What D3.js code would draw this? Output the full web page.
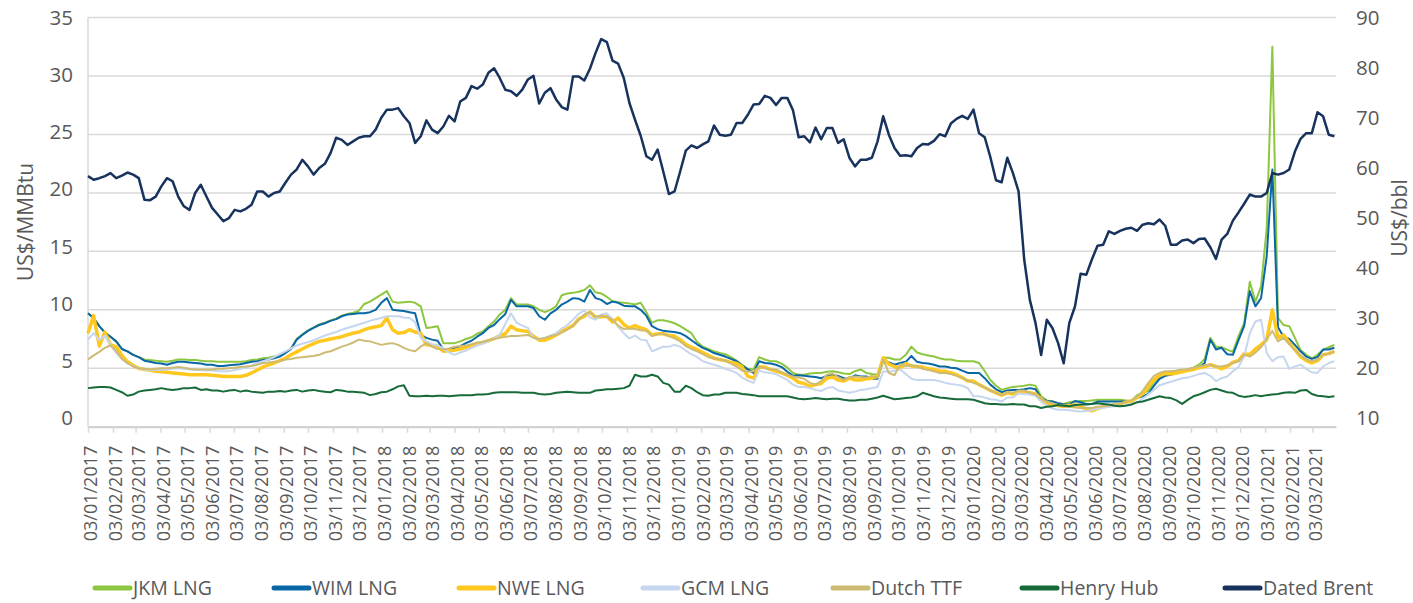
<!DOCTYPE html>
<html>
<head>
<meta charset="utf-8">
<script src="https://cdnjs.cloudflare.com/ajax/libs/d3/7.8.5/d3.min.js"></script>
<style>
body { margin: 0; background: #fff; }
text { font-family: "Open Sans", sans-serif; fill: #595959; }
</style>
</head>
<body>
<div id="chart"></div>
<script>
// weekly samples from 03/01/2017
var start = new Date(Date.UTC(2017, 0, 3));
var weeks = d3.range(222).map(function(i) { return d3.utcDay.offset(start, 7 * i); });

var jkm = [
  9.7, 9.3, 8.6, 8.05, 7.7, 7.3, 6.65, 6.45, 6.15, 5.95,
  5.75, 5.7, 5.65, 5.6, 5.55, 5.65, 5.75, 5.75, 5.7, 5.7,
  5.65, 5.6, 5.6, 5.55, 5.55, 5.55, 5.55, 5.55, 5.6, 5.7,
  5.75, 5.85, 5.9, 6.0, 6.1, 6.35, 6.7, 7.5, 7.9, 8.25,
  8.5, 8.75, 8.9, 9.1, 9.25, 9.5, 9.65, 9.75, 9.9, 10.5,
  10.7, 11.0, 11.3, 11.6, 10.7, 10.6, 10.65, 10.7, 10.6, 10.3,
  8.45, 8.5, 8.6, 7.15, 7.15, 7.15, 7.3, 7.5, 7.65, 7.95,
  8.15, 8.6, 9.0, 9.6, 10.0, 11.0, 10.45, 10.45, 10.45, 10.3,
  10.0, 9.8, 10.0, 10.3, 11.25, 11.4, 11.45, 11.55, 11.7, 12.1,
  11.5, 11.4, 11.1, 10.75, 10.65, 10.6, 10.55, 10.45, 10.6, 9.8,
  8.9, 9.1, 9.1, 9.0, 8.85, 8.6, 8.3, 8.0, 7.25, 6.85,
  6.65, 6.45, 6.3, 6.2, 5.95, 5.65, 5.3, 4.95, 4.9, 5.95,
  5.75, 5.6, 5.6, 5.4, 5.05, 4.6, 4.45, 4.45, 4.55, 4.6,
  4.6, 4.7, 4.75, 4.65, 4.55, 4.5, 4.75, 4.9, 4.6, 4.5,
  4.45, 5.9, 5.9, 5.75, 5.75, 6.15, 6.85, 6.35, 6.2, 6.1,
  6.0, 5.85, 5.75, 5.75, 5.65, 5.6, 5.6, 5.6, 5.45, 4.75,
  4.0, 3.5, 3.15, 3.3, 3.4, 3.45, 3.5, 3.6, 3.5, 2.6,
  2.25, 2.15, 2.0, 1.95, 2.1, 2.15, 2.2, 2.2, 2.25, 2.3,
  2.3, 2.3, 2.3, 2.3, 2.25, 2.2, 2.7, 2.9, 3.05, 3.8,
  4.3, 4.5, 4.6, 4.75, 4.8, 4.9, 5.05, 5.3, 5.8, 7.6,
  6.85, 6.8, 6.6, 6.4, 7.75, 8.85, 12.4, 10.7, 12.0, 17.0,
  32.5, 9.3, 8.7, 8.6, 7.6, 6.55, 6.15, 5.85, 6.15, 6.6,
  6.8, 7.0
];

var wim = [
  9.7, 9.3, 8.6, 8.05, 7.7, 7.3, 6.65, 6.45, 6.15, 5.95,
  5.65, 5.55, 5.45, 5.4, 5.3, 5.45, 5.55, 5.55, 5.5, 5.45,
  5.4, 5.3, 5.3, 5.2, 5.2, 5.25, 5.3, 5.35, 5.45, 5.55,
  5.6, 5.7, 5.75, 5.85, 6.0, 6.3, 6.65, 7.45, 7.85, 8.2,
  8.45, 8.7, 8.85, 9.05, 9.2, 9.45, 9.6, 9.65, 9.7, 9.7,
  9.8, 10.0, 10.6, 11.0, 10.0, 9.95, 9.9, 9.8, 9.7, 7.85,
  7.6, 7.45, 7.35, 6.6, 6.65, 6.7, 6.9, 7.15, 7.35, 7.7,
  8.0, 8.45, 8.7, 9.2, 9.65, 10.85, 10.3, 10.3, 10.3, 10.15,
  9.45, 9.15, 9.7, 10.0, 10.45, 10.7, 11.0, 10.95, 10.7, 11.7,
  11.0, 10.85, 10.5, 10.7, 10.6, 10.35, 10.3, 10.3, 10.0, 9.5,
  8.6, 8.35, 8.2, 8.15, 8.1, 8.0, 7.75, 7.4, 7.05, 6.75,
  6.55, 6.3, 6.15, 6.0, 5.8, 5.6, 5.2, 4.9, 4.6, 5.6,
  5.45, 5.4, 5.3, 5.1, 4.7, 4.35, 4.4, 4.35, 4.3, 4.25,
  4.15, 4.35, 4.45, 4.35, 4.15, 4.1, 4.4, 4.3, 4.3, 4.1,
  4.1, 5.65, 5.5, 5.3, 5.45, 5.55, 6.05, 5.55, 5.45, 5.4,
  5.3, 5.15, 5.15, 5.05, 5.0, 4.8, 4.6, 4.6, 4.6, 4.15,
  3.6, 3.2, 2.95, 3.1, 3.15, 3.15, 3.2, 3.3, 3.2, 2.45,
  2.2, 2.15, 2.0, 1.9, 1.9, 2.2, 2.1, 1.95, 1.95, 2.15,
  2.15, 2.15, 2.15, 2.15, 2.15, 2.2, 2.45, 2.6, 2.8, 3.5,
  4.1, 4.35, 4.45, 4.6, 4.7, 4.85, 5.0, 5.05, 5.45, 7.45,
  6.6, 6.75, 6.2, 6.15, 7.4, 8.6, 11.6, 10.3, 11.0, 14.6,
  22.0, 8.5, 7.7, 7.5, 7.0, 6.45, 6.0, 5.8, 5.95, 6.6,
  6.6, 6.75
];

var nwe = [
  8.0, 9.5, 6.9, 8.1, 7.0, 6.85, 6.1, 5.55, 5.25, 5.0,
  4.9, 4.85, 4.75, 4.7, 4.65, 4.6, 4.55, 4.5, 4.45, 4.45,
  4.45, 4.45, 4.4, 4.35, 4.3, 4.3, 4.3, 4.3, 4.4, 4.6,
  4.85, 5.1, 5.3, 5.45, 5.65, 5.85, 6.15, 6.4, 6.65, 6.9,
  7.1, 7.3, 7.4, 7.5, 7.6, 7.7, 7.85, 8.0, 8.1, 8.3,
  8.45, 8.55, 8.65, 9.3, 8.3, 8.0, 8.05, 8.3, 8.1, 8.0,
  7.0, 6.95, 6.9, 6.45, 6.5, 6.55, 6.65, 6.8, 6.95, 7.05,
  7.2, 7.35, 7.55, 7.8, 7.95, 8.6, 8.3, 8.2, 8.15, 7.75,
  7.4, 7.4, 7.6, 7.85, 8.15, 8.4, 8.65, 9.2, 9.45, 9.8,
  9.35, 9.4, 9.45, 8.95, 9.3, 8.75, 8.45, 8.65, 8.45, 8.3,
  7.85, 7.95, 7.95, 7.8, 7.75, 7.45, 7.05, 6.8, 6.6, 6.35,
  6.1, 5.85, 5.75, 5.65, 5.5, 5.4, 5.1, 4.3, 4.15, 5.1,
  5.1, 4.9, 4.75, 4.6, 4.4, 4.15, 3.8, 3.7, 3.45, 3.6,
  3.7, 4.15, 4.25, 4.0, 3.9, 4.15, 4.0, 4.0, 4.1, 4.15,
  4.3, 5.9, 5.35, 5.15, 5.0, 5.4, 5.2, 5.15, 5.1, 4.95,
  4.9, 4.75, 4.75, 4.6, 4.45, 4.2, 3.9, 3.9, 3.6, 3.35,
  3.1, 2.9, 2.7, 2.9, 2.8, 2.95, 3.0, 2.9, 2.8, 2.4,
  1.95, 1.9, 1.8, 1.75, 1.8, 1.85, 1.75, 1.5, 1.35, 1.55,
  1.75, 1.8, 1.85, 1.9, 2.1, 2.2, 2.5, 2.8, 3.45, 4.0,
  4.4, 4.55, 4.5, 4.6, 4.7, 4.8, 4.9, 5.05, 5.15, 5.3,
  5.15, 4.95, 5.15, 5.5, 5.65, 6.25, 6.15, 6.65, 7.0, 7.45,
  10.0, 7.6, 7.85, 7.2, 6.6, 6.0, 5.65, 5.45, 5.65, 6.15,
  6.25, 6.45
];

var gcm = [
  7.45, 8.0, 7.4, 7.8, 7.0, 6.3, 5.8, 5.4, 5.2, 5.0,
  4.9, 4.85, 4.85, 4.85, 4.9, 4.95, 5.0, 4.95, 4.9, 4.85,
  4.85, 4.8, 4.8, 4.75, 4.75, 4.75, 4.85, 4.95, 5.05, 5.25,
  5.45, 5.6, 5.75, 5.95, 6.2, 6.45, 6.7, 6.95, 7.1, 7.25,
  7.4, 7.6, 7.8, 7.95, 8.1, 8.3, 8.45, 8.6, 8.75, 8.9,
  9.05, 9.2, 9.3, 9.45, 9.45, 9.45, 9.35, 9.3, 8.95, 7.6,
  7.3, 7.05, 6.95, 6.7, 6.35, 6.15, 6.35, 6.5, 6.75, 6.95,
  7.1, 7.3, 7.6, 7.85, 8.8, 9.7, 8.9, 8.65, 8.45, 7.6,
  7.5, 7.6, 7.8, 8.0, 8.4, 8.7, 9.15, 9.65, 9.95, 9.35,
  9.15, 9.6, 9.7, 9.2, 8.55, 8.0, 7.55, 7.8, 7.45, 7.4,
  6.45, 6.65, 6.85, 6.85, 7.0, 6.85, 6.5, 6.2, 5.95, 5.6,
  5.45, 5.3, 5.15, 4.95, 4.8, 4.6, 4.2, 3.95, 3.75, 4.8,
  4.65, 4.6, 4.5, 4.25, 4.0, 3.6, 3.4, 3.4, 3.3, 3.15,
  3.05, 3.3, 3.4, 3.1, 3.0, 2.9, 3.0, 3.15, 3.2, 3.3,
  3.4, 4.75, 4.7, 4.8, 4.9, 4.5, 4.1, 4.0, 4.0, 4.0,
  4.0, 3.9, 3.75, 3.65, 3.6, 3.5, 3.3, 2.6, 2.6, 2.5,
  2.35, 2.3, 2.15, 2.5, 2.5, 2.85, 2.8, 2.75, 2.65, 2.15,
  1.8, 1.55, 1.45, 1.45, 1.4, 1.35, 1.3, 1.35, 1.4, 1.55,
  1.6, 1.7, 1.75, 1.75, 1.85, 1.9, 2.05, 2.4, 2.75, 3.15,
  3.55, 3.7, 3.85, 4.0, 4.15, 4.2, 4.35, 4.5, 4.6, 4.35,
  3.9, 4.15, 4.3, 4.75, 5.1, 6.0, 8.0, 9.0, 9.15, 6.3,
  5.6, 5.95, 6.0, 4.95, 5.15, 5.3, 4.95, 4.65, 4.6, 5.15,
  5.45, 5.6
];

var ttf = [
  5.75, 6.1, 6.4, 6.75, 6.95, 6.5, 5.8, 5.45, 5.15, 5.0,
  4.95, 4.9, 4.95, 5.0, 5.0, 5.05, 5.1, 5.05, 4.95, 4.9,
  4.9, 4.9, 4.9, 4.95, 4.95, 5.0, 5.05, 5.1, 5.15, 5.2,
  5.3, 5.45, 5.5, 5.55, 5.6, 5.75, 5.8, 5.9, 5.95, 6.0,
  6.05, 6.15, 6.35, 6.45, 6.65, 6.85, 7.0, 7.2, 7.45, 7.35,
  7.3, 7.15, 7.0, 7.1, 7.15, 7.0, 6.75, 6.55, 6.45, 6.85,
  7.15, 6.85, 6.65, 6.6, 6.7, 6.85, 6.9, 6.95, 7.05, 7.2,
  7.25, 7.4, 7.5, 7.6, 7.7, 7.75, 7.75, 7.8, 7.85, 7.6,
  7.5, 7.6, 7.75, 7.85, 8.05, 8.3, 8.65, 9.15, 9.6, 9.8,
  9.4, 9.5, 9.4, 9.15, 8.65, 8.35, 8.4, 8.35, 8.25, 8.2,
  7.75, 7.9, 7.95, 7.75, 7.55, 7.3, 6.9, 6.65, 6.45, 6.2,
  5.95, 5.85, 5.75, 5.65, 5.4, 5.15, 4.8, 4.7, 4.75, 5.1,
  5.0, 4.9, 4.9, 4.65, 4.45, 4.3, 4.2, 4.1, 3.75, 3.6,
  3.9, 4.45, 4.55, 4.25, 4.0, 4.25, 4.3, 4.25, 4.2, 4.35,
  4.2, 5.75, 4.6, 4.4, 5.35, 5.2, 5.25, 5.15, 4.95, 4.85,
  4.75, 4.6, 4.6, 4.5, 4.35, 4.2, 3.95, 3.75, 3.6, 3.35,
  3.1, 2.9, 2.7, 2.95, 2.9, 3.1, 3.1, 2.9, 2.75, 2.4,
  2.15, 2.0, 1.85, 1.75, 1.7, 1.65, 1.6, 1.6, 1.6, 1.7,
  1.75, 1.8, 1.95, 2.0, 2.1, 2.25, 2.55, 3.05, 3.75, 4.35,
  4.6, 4.75, 4.75, 4.8, 4.9, 4.9, 5.05, 5.15, 5.25, 5.3,
  5.15, 5.15, 5.25, 5.45, 5.6, 6.15, 6.0, 6.35, 6.8, 7.5,
  8.2, 7.3, 7.6, 7.05, 6.55, 6.1, 5.75, 5.6, 5.75, 6.15,
  6.25, 6.45
];

var henryHub = [
  3.3, 3.35, 3.4, 3.4, 3.35, 3.15, 2.95, 2.65, 2.75, 3.0,
  3.1, 3.15, 3.2, 3.3, 3.2, 3.15, 3.2, 3.3, 3.3, 3.35,
  3.15, 3.2, 3.1, 3.1, 3.0, 3.1, 3.15, 3.0, 3.1, 3.0,
  2.95, 2.9, 3.0, 3.0, 3.05, 3.0, 3.1, 3.15, 3.0, 3.1,
  3.15, 3.05, 3.0, 2.95, 3.15, 3.1, 3.0, 3.0, 2.95, 2.9,
  2.7, 2.8, 2.95, 3.0, 3.2, 3.45, 3.55, 2.65, 2.6, 2.6,
  2.65, 2.6, 2.65, 2.65, 2.6, 2.65, 2.7, 2.7, 2.7, 2.75,
  2.75, 2.8, 2.9, 2.95, 2.95, 2.95, 2.95, 2.9, 2.9, 2.9,
  2.8, 2.75, 2.8, 2.9, 2.95, 3.0, 2.95, 2.9, 2.9, 2.9,
  3.1, 3.15, 3.2, 3.2, 3.25, 3.3, 3.5, 4.45, 4.3, 4.3,
  4.45, 4.3, 3.75, 3.6, 3.0, 3.0, 3.5, 3.3, 2.95, 2.7,
  2.65, 2.75, 2.75, 2.9, 2.9, 2.9, 2.8, 2.75, 2.7, 2.6,
  2.6, 2.6, 2.6, 2.6, 2.6, 2.5, 2.4, 2.35, 2.4, 2.45,
  2.4, 2.35, 2.4, 2.4, 2.3, 2.25, 2.25, 2.3, 2.3, 2.4,
  2.5, 2.65, 2.5, 2.35, 2.4, 2.45, 2.5, 2.6, 2.9, 2.75,
  2.6, 2.5, 2.45, 2.4, 2.35, 2.35, 2.35, 2.3, 2.15, 2.0,
  1.95, 1.95, 1.9, 1.9, 1.95, 1.9, 1.9, 1.75, 1.75, 1.6,
  1.7, 1.75, 1.85, 1.8, 1.75, 1.85, 1.9, 1.9, 1.95, 2.0,
  1.95, 1.9, 1.8, 1.75, 1.8, 1.9, 2.1, 2.15, 2.3, 2.45,
  2.6, 2.5, 2.45, 2.25, 1.95, 2.3, 2.6, 2.75, 2.95, 3.15,
  3.25, 3.1, 2.95, 2.9, 2.65, 2.55, 2.6, 2.7, 2.6, 2.7,
  2.75, 2.8, 2.9, 2.95, 2.9, 3.1, 3.15, 2.8, 2.65, 2.6,
  2.55, 2.6
];

// right axis, US$/bbl
var datedBrent = [
  59.0, 58.3, 58.6, 59.0, 59.6, 58.6, 59.1, 59.7, 59.3, 58.6,
  54.4, 54.3, 55.0, 57.0, 58.6, 58.0, 55.0, 53.1, 52.4, 55.7,
  57.3, 55.0, 52.8, 51.5, 50.2, 50.8, 52.4, 52.1, 52.6, 53.4,
  56.0, 56.0, 55.0, 55.7, 56.0, 57.7, 59.3, 60.3, 62.2, 60.9,
  59.3, 60.6, 61.4, 63.5, 66.5, 66.1, 65.1, 65.8, 66.5, 66.8,
  66.8, 68.1, 70.4, 72.0, 72.0, 72.3, 70.7, 69.4, 65.5, 66.8,
  69.9, 68.1, 67.4, 68.7, 70.8, 69.7, 73.6, 74.3, 76.6, 76.1,
  76.9, 79.2, 80.1, 78.2, 75.9, 75.6, 74.7, 75.9, 77.9, 78.6,
  73.2, 75.3, 76.2, 74.0, 72.5, 72.0, 78.5, 78.5, 77.7, 80.0,
  83.1, 85.8, 85.2, 81.6, 81.0, 78.2, 73.3, 70.0, 66.9, 62.9,
  62.2, 64.2, 59.9, 55.5, 56.0, 59.9, 64.0, 65.0, 64.5, 65.2,
  65.8, 68.9, 67.1, 66.9, 67.1, 69.4, 69.4, 71.0, 73.0, 73.1,
  74.7, 74.3, 72.9, 74.3, 74.3, 71.9, 66.6, 66.8, 65.6, 68.5,
  66.2, 68.4, 68.4, 65.5, 66.2, 62.6, 60.9, 62.2, 62.2, 62.6,
  65.8, 70.7, 67.1, 64.5, 63.0, 63.1, 62.9, 64.5, 65.3, 65.2,
  65.9, 67.2, 66.8, 69.3, 70.2, 70.8, 70.2, 72.0, 67.4, 66.6,
  62.7, 58.2, 57.8, 62.6, 59.6, 56.0, 42.7, 34.8, 30.3, 24.0,
  30.9, 29.3, 26.4, 22.4, 30.3, 33.5, 39.9, 39.7, 42.7, 45.4,
  45.6, 48.2, 47.7, 48.3, 48.7, 48.9, 48.3, 49.5, 49.8, 49.6,
  50.5, 49.3, 45.6, 45.6, 46.4, 46.6, 45.9, 46.7, 46.8, 45.1,
  42.8, 46.6, 47.7, 50.3, 51.9, 53.6, 55.4, 55.0, 55.0, 55.7,
  59.6, 59.3, 59.6, 60.3, 63.8, 66.3, 67.4, 67.4, 71.5, 70.7,
  67.1, 66.8
];

var leftTicks = [0, 5, 10, 15, 20, 25, 30, 35];
var rightTicks = [10, 20, 30, 40, 50, 60, 70, 80, 90];
var xTicks = d3.utcMonth.range(new Date(Date.UTC(2017, 0, 1)), new Date(Date.UTC(2021, 2, 2)))
  .map(function(d) { return d3.utcDay.offset(d, 2); });

var series = [
  { name: "JKM LNG", values: jkm, color: "#8dc63f", width: 2, axis: "left" },
  { name: "WIM LNG", values: wim, color: "#0a67a6", width: 2, axis: "left" },
  { name: "NWE LNG", values: nwe, color: "#ffc81e", width: 3.5, axis: "left" },
  { name: "GCM LNG", values: gcm, color: "#c6d6ef", width: 2, axis: "left" },
  { name: "Dutch TTF", values: ttf, color: "#cdbb74", width: 2, axis: "left" },
  { name: "Henry Hub", values: henryHub, color: "#176a39", width: 2, axis: "left" },
  { name: "Dated Brent", values: datedBrent, color: "#17335d", width: 2.5, axis: "right" }
];

var W = 1413, H = 603;
var plotLeft = 88, plotRight = 1336, plotTop = 17.6, plotBottom = 426.7;

var svg = d3.select("#chart").append("svg")
  .attr("width", W)
  .attr("height", H);

var x = d3.scaleUtc()
  .domain([start, d3.utcDay.offset(start, 1549)])
  .range([plotLeft, plotRight]);
var yLeft = d3.scaleLinear().domain([0, 35]).range([plotBottom, plotTop]);
var yRight = d3.scaleLinear().domain([10, 90]).range([plotBottom, plotTop]);
// excel puts the value labels slightly above the gridlines towards the bottom
var yLeftLab = d3.scaleLinear().domain([0, 35]).range([418, 18]);
var yRightLab = d3.scaleLinear().domain([10, 90]).range([418, 18]);

// gridlines
svg.append("g")
  .selectAll("line")
  .data(leftTicks)
  .enter()
  .append("line")
  .attr("x1", plotLeft)
  .attr("x2", plotRight)
  .attr("y1", function(d) { return yLeft(d); })
  .attr("y2", function(d) { return yLeft(d); })
  .style("stroke", "#d9d9d9")
  .style("stroke-width", 1.5);

svg.append("line")
  .attr("x1", plotLeft).attr("x2", plotLeft)
  .attr("y1", plotTop).attr("y2", plotBottom)
  .style("stroke", "#d9d9d9")
  .style("stroke-width", 1.5);

// x axis
var xAxis = svg.append("g")
  .attr("transform", "translate(0," + plotBottom + ")")
  .call(d3.axisBottom(x)
    .tickValues(xTicks)
    .tickSize(6)
    .tickSizeOuter(0)
    .tickFormat(d3.utcFormat("%d/%m/%Y")));
xAxis.select(".domain").style("stroke", "#d0d0d0").style("stroke-width", 2);
xAxis.selectAll(".tick line").style("stroke", "#d9d9d9").style("stroke-width", 1.5);
xAxis.selectAll(".tick text")
  .attr("transform", "rotate(-90)")
  .attr("x", -19)
  .attr("y", 2.5)
  .attr("dy", "0.35em")
  .style("text-anchor", "end")
  .style("font-size", "18px")
  .style("fill", "#595959");

// y axes labels
var yl = svg.append("g")
  .attr("transform", "translate(" + 73 + ",0)")
  .call(d3.axisLeft(yLeftLab).tickValues(leftTicks).tickSize(0));
yl.select(".domain").remove();
yl.selectAll("text").attr("x", 0).style("font-size", "20.5px").style("fill", "#595959");

var yr = svg.append("g")
  .attr("transform", "translate(" + 1356 + ",0)")
  .call(d3.axisRight(yRightLab).tickValues(rightTicks).tickSize(0));
yr.select(".domain").remove();
yr.selectAll("text").attr("x", 0).style("font-size", "20.5px").style("fill", "#595959");

// axis titles
svg.append("text")
  .attr("transform", "translate(26,222)rotate(-90)")
  .attr("text-anchor", "middle")
  .attr("dy", "0.35em")
  .style("font-size", "21px")
  .text("US$/MMBtu");

svg.append("text")
  .attr("transform", "translate(1400,218)rotate(-90)")
  .attr("text-anchor", "middle")
  .attr("dy", "0.35em")
  .style("font-size", "21px")
  .text("US$/bbl");

// lines
series.forEach(function(s) {
  var yScale = s.axis === "right" ? yRight : yLeft;
  var line = d3.line()
    .x(function(d, i) { return x(weeks[i]); })
    .y(function(d) { return yScale(d); });
  svg.append("path")
    .datum(s.values)
    .attr("d", line)
    .style("fill", "none")
    .style("stroke", s.color)
    .style("stroke-width", s.width)
    .style("stroke-linejoin", "round");
});

// legend
var legendX = [83, 262, 447, 631, 821, 1010, 1213];
var legend = svg.append("g")
  .selectAll("g")
  .data(series)
  .enter()
  .append("g")
  .attr("transform", function(d, i) { return "translate(" + legendX[i] + ",588)"; });

legend.append("line")
  .attr("x1", 12).attr("x2", 47)
  .attr("y1", 0).attr("y2", 0)
  .style("stroke", function(d) { return d.color; })
  .style("stroke-width", 5)
  .style("stroke-linecap", "round");

legend.append("text")
  .attr("x", 50)
  .attr("dy", "0.35em")
  .style("font-size", "19.5px")
  .text(function(d) { return d.name; });
</script>
</body>
</html>
